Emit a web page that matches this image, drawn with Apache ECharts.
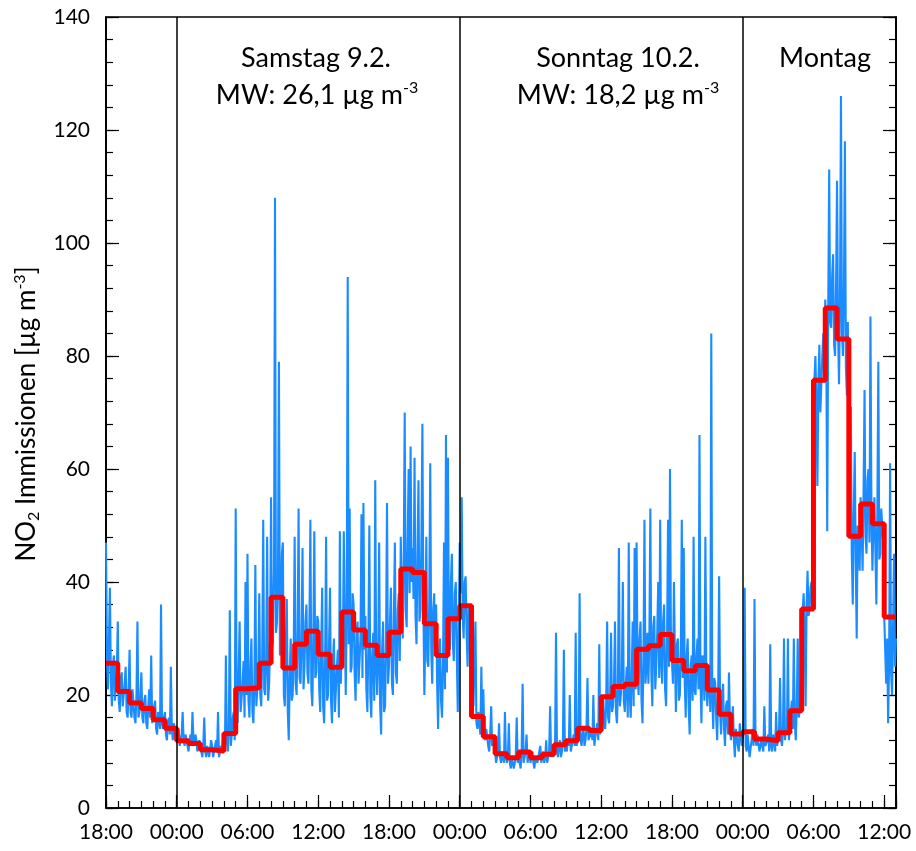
<!DOCTYPE html>
<html>
<head>
<meta charset="utf-8">
<script src="https://cdn.jsdelivr.net/npm/echarts@6.0.0/dist/echarts.min.js"></script>
<style>
  html, body { margin: 0; padding: 0; background: #fff; }
  #chart { width: 916px; height: 851px; }
</style>
</head>
<body>
<div id="chart"></div>
<script>
// Stunden ab Freitag 18:00
var startHour = 18;
var hoursShown = 67;
var samplesPerHour = 12;

// NO2 Rohwerte (5-Minuten), eine Zeile pro Stunde
var no2Raw = [
  47, 26, 21, 30, 39, 22, 18, 25, 27, 19, 22, 24,
  33, 19, 17, 23, 24, 18, 18, 22, 25, 17, 16, 21,
  28, 17, 16, 21, 21, 16, 15, 20, 33, 16, 17, 20,
  24, 16, 15, 19, 20, 15, 14, 18, 21, 16, 27, 15,
  15, 18, 19, 14, 13, 17, 17, 14, 36, 15, 14, 16,
  17, 13, 12, 15, 16, 13, 25, 14, 12, 15, 14, 12,
  12, 13, 14, 11, 11, 13, 17, 12, 11, 13, 13, 11,
  10, 12, 13, 11, 17, 12, 11, 13, 12, 10, 10, 12,
  12, 10, 9, 11, 16, 10, 9, 11, 11, 9, 9, 12,
  11, 9, 9, 11, 12, 10, 17, 9, 9, 11, 10, 12,
  12, 10, 27, 12, 10, 14, 35, 11, 13, 16, 17, 12,
  53, 18, 15, 24, 33, 17, 17, 22, 26, 16, 40, 20,
  45, 19, 16, 25, 30, 17, 15, 22, 43, 18, 18, 24,
  38, 20, 18, 27, 51, 21, 20, 26, 48, 19, 22, 30,
  55, 28, 30, 42, 108, 31, 33, 40, 79, 27, 35, 45,
  47, 20, 18, 29, 37, 17, 12, 24, 30, 19, 20, 27,
  48, 22, 20, 31, 53, 23, 22, 30, 46, 21, 25, 33,
  36, 24, 22, 32, 51, 21, 18, 30, 49, 23, 24, 34,
  33, 21, 17, 28, 39, 18, 15, 26, 48, 19, 20, 29,
  39, 19, 15, 26, 30, 17, 17, 25, 28, 16, 49, 22,
  30, 25, 49, 33, 20, 36, 94, 29, 53, 24, 25, 38,
  36, 24, 19, 31, 33, 22, 22, 30, 52, 23, 54, 28,
  34, 21, 17, 29, 50, 20, 16, 27, 31, 19, 58, 25,
  20, 26, 47, 18, 13, 28, 33, 17, 18, 30, 54, 22,
  25, 33, 39, 22, 20, 34, 47, 24, 22, 35, 38, 26,
  48, 36, 30, 44, 70, 35, 32, 47, 60, 38, 64, 40,
  46, 37, 62, 34, 29, 45, 58, 33, 35, 47, 68, 36,
  20, 31, 48, 26, 25, 37, 61, 28, 22, 35, 38, 27,
  36, 22, 14, 28, 30, 19, 16, 26, 47, 21, 66, 24,
  62, 30, 28, 40, 45, 29, 26, 38, 40, 27, 17, 33,
  47, 38, 55, 34, 30, 40, 41, 31, 25, 36, 28, 33,
  30, 20, 18, 26, 33, 15, 14, 17, 17, 13, 25, 14,
  21, 13, 12, 14, 14, 11, 10, 13, 18, 11, 11, 12,
  10, 8, 8, 10, 15, 9, 8, 10, 10, 8, 17, 9,
  8, 9, 15, 8, 7, 9, 9, 7, 8, 9, 16, 8,
  9, 8, 7, 10, 22, 8, 8, 10, 13, 8, 9, 10,
  8, 9, 10, 8, 7, 9, 9, 8, 8, 10, 11, 8,
  9, 10, 8, 9, 12, 8, 8, 10, 18, 9, 10, 9,
  10, 11, 31, 10, 9, 11, 12, 9, 10, 12, 28, 10,
  11, 10, 12, 11, 20, 10, 10, 12, 13, 11, 31, 11,
  12, 13, 38, 12, 11, 13, 14, 11, 12, 14, 23, 12,
  12, 13, 14, 12, 20, 11, 11, 14, 15, 12, 29, 13,
  16, 19, 20, 15, 14, 18, 33, 16, 15, 19, 31, 17,
  18, 22, 33, 17, 15, 21, 46, 18, 20, 24, 40, 19,
  17, 22, 25, 16, 47, 20, 16, 23, 33, 18, 46, 21,
  47, 24, 20, 30, 33, 19, 15, 27, 51, 22, 25, 31,
  22, 30, 53, 24, 18, 32, 34, 21, 25, 31, 40, 23,
  51, 26, 22, 33, 36, 21, 18, 30, 51, 25, 60, 28,
  26, 22, 40, 27, 17, 29, 30, 19, 20, 28, 51, 23,
  46, 22, 16, 27, 30, 18, 13, 25, 27, 19, 48, 21,
  20, 27, 30, 21, 66, 23, 15, 27, 26, 19, 48, 22,
  18, 22, 25, 17, 84, 20, 14, 23, 22, 16, 12, 20,
  41, 17, 13, 19, 22, 14, 11, 18, 19, 13, 24, 15,
  12, 15, 18, 12, 9, 14, 14, 11, 10, 15, 13, 11,
  12, 14, 39, 11, 10, 13, 13, 9, 9, 12, 14, 11,
  37, 12, 11, 13, 13, 10, 10, 12, 12, 10, 18, 11,
  11, 12, 13, 10, 29, 11, 10, 13, 12, 10, 17, 11,
  12, 14, 23, 12, 11, 14, 30, 12, 14, 13, 30, 12,
  14, 17, 19, 14, 30, 15, 12, 18, 30, 16, 17, 19,
  30, 35, 38, 32, 18, 36, 42, 34, 35, 39, 40, 37,
  68, 76, 80, 72, 57, 75, 82, 70, 75, 80, 84, 78,
  90, 84, 49, 88, 113, 86, 85, 94, 98, 82, 80, 92,
  111, 85, 75, 90, 126, 84, 80, 92, 118, 78, 73, 86,
  55, 48, 71, 45, 36, 52, 63, 44, 30, 50, 48, 42,
  55, 50, 42, 56, 74, 48, 45, 58, 60, 47, 87, 52,
  42, 50, 55, 46, 36, 52, 79, 44, 45, 53, 50, 47,
  34, 28, 22, 30, 15, 26, 61, 24, 20, 32, 45, 25,
  30
];

// Stundenmittelwerte
var no2Hourly = [
  25.6, 20.6, 18.6, 17.6, 15.6, 14.1,
  11.9, 11.4, 10.3, 10.1, 13.2, 21.1, 21.3, 25.6, 37.3, 24.8, 29.0, 31.3,
  27.2, 24.9, 34.7, 31.5, 28.8, 27.0, 31.1, 42.3, 41.7, 32.6, 27.0, 33.5,
  35.8, 16.2, 12.6, 9.6, 8.9, 9.9, 8.9, 9.5, 11.2, 11.9, 14.1, 13.7,
  19.7, 21.5, 21.9, 28.1, 28.7, 30.7, 26.1, 24.3, 25.2, 20.9, 16.6, 13.1,
  13.5, 12.2, 11.9, 13.3, 17.2, 35.2, 75.7, 88.5, 83.0, 48.1, 53.8, 50.3,
  33.8
];

// Tagesgrenzen (00:00) in Stunden ab Start
var daySplits = [6, 30, 54];

var yTicks = [0, 20, 40, 60, 80, 100, 120, 140];

var font = 'Lato';
var tickStyle = { color: '#000', width: 1.2 };

var rawData = no2Raw.map(function (v, i) {
  return [i / samplesPerHour, v];
});
var hourlyData = no2Hourly.map(function (v, i) {
  return [i, v];
});
hourlyData.push([hoursShown, no2Hourly[no2Hourly.length - 1]]);

function hourLabel (h) {
  if (h % 6 !== 0) return '';
  var hh = (startHour + h) % 24;
  return (hh < 10 ? '0' : '') + hh + ':00';
}

// x-Achse: kurze Striche jede Stunde, lange alle 6 Stunden
function xAxisDef (interval, len, withLabels) {
  return {
    type: 'value',
    min: 0,
    max: hoursShown,
    interval: interval,
    position: 'bottom',
    axisLine: { show: withLabels, lineStyle: { color: '#000', width: 1.5 } },
    axisTick: { inside: true, length: len, lineStyle: tickStyle },
    axisLabel: withLabels ? {
      formatter: hourLabel,
      color: '#000',
      fontFamily: font,
      fontSize: 21,
      margin: 14
    } : { show: false },
    splitLine: { show: false }
  };
}

function yAxisDef (pos, interval, len, withLabels) {
  return {
    type: 'value',
    min: yTicks[0],
    max: yTicks[yTicks.length - 1],
    interval: interval,
    position: pos,
    axisLine: { show: true, lineStyle: { color: '#000', width: 1.5 } },
    axisTick: { show: true, inside: true, length: len, lineStyle: tickStyle },
    axisLabel: withLabels ? { color: '#000', fontFamily: font, fontSize: 21, margin: 16 } : { show: false },
    splitLine: { show: false }
  };
}

var myChart = echarts.init(document.getElementById('chart'));

var option = {
  animation: false,
  backgroundColor: '#fff',
  grid: {
    left: 106,
    right: 20,
    top: 17,
    bottom: 43,
    show: true,
    borderColor: '#000',
    borderWidth: 1.5
  },
  xAxis: [
    xAxisDef(6, 13, true),
    xAxisDef(1, 7, false)
  ],
  yAxis: [
    yAxisDef('left', 20, 13, true),
    yAxisDef('left', 4, 7, false),
    yAxisDef('right', 20, 13, false),
    yAxisDef('right', 4, 7, false)
  ],
  series: [
    {
      name: 'NO2',
      type: 'line',
      data: rawData,
      showSymbol: false,
      lineStyle: { color: '#1A8CFF', width: 2.1 },
      z: 2
    },
    {
      name: 'Stundenmittel',
      type: 'line',
      step: 'end',
      data: hourlyData,
      showSymbol: false,
      lineStyle: { color: '#FF0000', width: 5 },
      z: 4,
      markLine: {
        silent: true,
        symbol: ['none', 'none'],
        label: { show: false },
        lineStyle: { color: '#000', width: 1.5, type: 'solid' },
        data: daySplits.map(function (h) { return { xAxis: h }; })
      }
    }
  ],
  graphic: [
    {
      type: 'text', x: 316, y: 58,
      style: { text: 'Samstag 9.2.', fontFamily: font, fontSize: 27, fill: '#000', align: 'center', verticalAlign: 'middle' }
    },
    {
      type: 'text', x: 317, y: 95,
      style: {
        text: 'MW: 26,1 µg m{sup|-3}', fontFamily: font, fontSize: 27, fill: '#000',
        align: 'center', verticalAlign: 'middle', lineHeight: 30,
        rich: { sup: { fontFamily: font, fontSize: 16, verticalAlign: 'top', fill: '#000' } }
      }
    },
    {
      type: 'text', x: 618, y: 58,
      style: { text: 'Sonntag 10.2.', fontFamily: font, fontSize: 27, fill: '#000', align: 'center', verticalAlign: 'middle' }
    },
    {
      type: 'text', x: 618, y: 95,
      style: {
        text: 'MW: 18,2 µg m{sup|-3}', fontFamily: font, fontSize: 27, fill: '#000',
        align: 'center', verticalAlign: 'middle', lineHeight: 30,
        rich: { sup: { fontFamily: font, fontSize: 16, verticalAlign: 'top', fill: '#000' } }
      }
    },
    {
      type: 'text', x: 825, y: 58,
      style: { text: 'Montag', fontFamily: font, fontSize: 27, fill: '#000', align: 'center', verticalAlign: 'middle' }
    },
    {
      // Achsentitel
      type: 'text', x: 27, y: 414, rotation: Math.PI / 2,
      style: {
        text: 'NO{sub|2} Immissionen [µg m{sup|-3}]', fontFamily: font, fontSize: 26, fill: '#000',
        align: 'center', verticalAlign: 'middle', lineHeight: 30,
        rich: {
          sub: { fontFamily: font, fontSize: 16, verticalAlign: 'bottom', fill: '#000' },
          sup: { fontFamily: font, fontSize: 16, verticalAlign: 'top', fill: '#000' }
        }
      }
    }
  ]
};

myChart.setOption(option);
</script>
</body>
</html>
